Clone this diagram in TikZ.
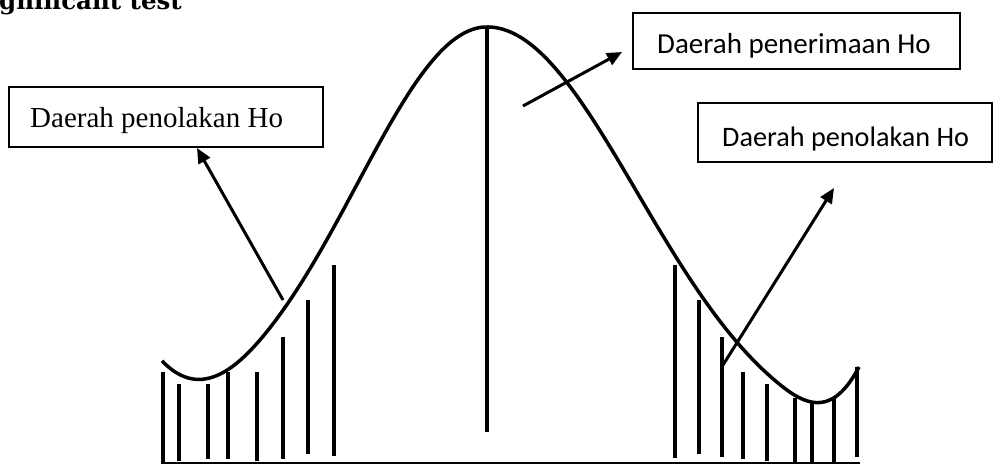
\documentclass[tikz,border=0pt]{standalone}
\usepackage{fontspec}
\setmainfont{Liberation Serif}
\newfontfamily\carlitof{Carlito}
\newfontfamily\titlef{DejaVu Serif}
\usetikzlibrary{arrows.meta}
\tikzset{
  curveline/.style={line width=3.5pt, line join=round},
  hatch/.style={line width=3.2pt},
  basel/.style={line width=1.4pt},
  boxnode/.style={draw, line width=1.6pt, inner sep=0pt},
  arr/.style={line width=3pt, -{Triangle[length=15pt,width=13pt]}},
  sertext/.style={font=\fontsize{29}{34}\selectfont, inner sep=0pt},
  santext/.style={font=\carlitof\fontsize{29}{34}\selectfont, inner sep=0pt},
}
\begin{document}
\begin{tikzpicture}[x=1pt,y=-1pt]
\useasboundingbox (0,0) rectangle (993,464);
% title (cut at top)
\node[anchor=base west, inner sep=0pt, font=\titlef\bfseries\fontsize{24.5}{29}\selectfont] (title) at (-1,9) {gnificant test};
% bell curve
\draw[curveline] plot[domain=162:487, samples=90, smooth]
   (\x, {27 + 400*(1-exp(-0.5*((\x-487)/130)^2)) - 0.042*max(0,(267-\x)/10)*max(0,(267-\x)/10)*max(0,(267-\x)/10)})
 -- plot[domain=487:859, samples=100, smooth]
   (\x, {27 + 420*(1-exp(-0.5*((\x-487)/150)^2)) - 0.11*max(0,(\x-777)/10)*max(0,(\x-777)/10)*max(0,(\x-777)/10)});
% centre line
\draw[hatch] (487,27) -- (487,432);
% base line
\draw[basel] (161,463) -- (860,463);
% left hatching
\draw[hatch] (163,372) -- (163,462);
\draw[hatch] (179,384) -- (179,461);
\draw[hatch] (208,384) -- (208,459);
\draw[hatch] (228,372) -- (228,459);
\draw[hatch] (257,372) -- (257,461);
\draw[hatch] (283,337) -- (283,459);
\draw[hatch] (308,300) -- (308,454);
\draw[hatch] (334,265) -- (334,456);
% right hatching
\draw[hatch] (675,265) -- (675,458);
\draw[hatch] (699,300) -- (699,454);
\draw[hatch] (722,337) -- (722,457);
\draw[hatch] (743,372) -- (743,459);
\draw[hatch] (767,384) -- (767,461);
\draw[hatch] (795,398) -- (795,462);
\draw[hatch] (812,402) -- (812,462);
\draw[hatch] (834,398) -- (834,462);
\draw[hatch] (857,367) -- (857,457);
% boxes
\node[boxnode, minimum width=314pt, minimum height=60pt] (lbox) at (166,117) {};
\node[sertext, anchor=base west] (ltext) at (30,127) {Daerah penolakan Ho};
\node[boxnode, minimum width=327pt, minimum height=56pt] (tbox) at (796.5,41) {};
\node[santext, anchor=base west] (ttext) at (657,53) {Daerah penerimaan Ho};
\node[boxnode, minimum width=294pt, minimum height=59pt] (rbox) at (845,132.5) {};
\node[santext, anchor=base west, font=\carlitof\fontsize{28.2}{33}\selectfont] (rtext) at (722,146) {Daerah penolakan Ho};
% arrows
\coordinate (la0) at (283,300);
\coordinate (la1) at (197,148);
\coordinate (ma0) at (523,106);
\coordinate (ma1) at (622,52);
\coordinate (ra0) at (723,365);
\coordinate (ra1) at (834,188);
\draw[arr] (la0) -- (la1);
\draw[arr] (ma0) -- (ma1);
\draw[arr] (ra0) -- (ra1);
\end{tikzpicture}
\end{document}
